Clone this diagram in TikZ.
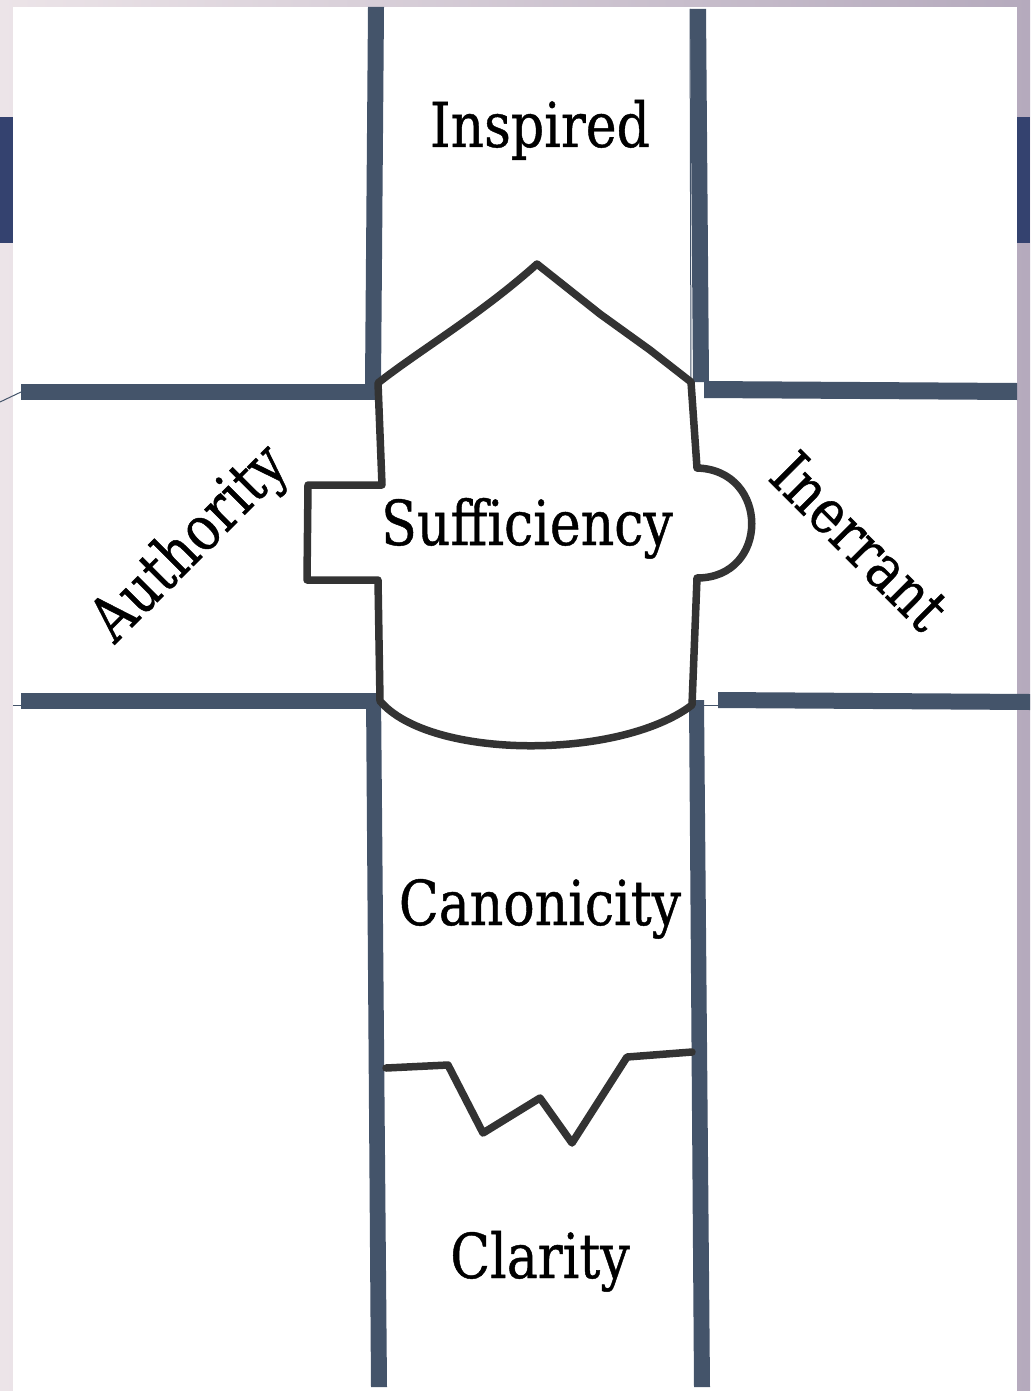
\documentclass[tikz,border=0pt]{standalone}
\usepackage{fontspec}
\newfontfamily\slab[FakeStretch=0.84,FakeBold=0.7]{DejaVu Serif}
\definecolor{bar}{HTML}{44546A}
\definecolor{edgebar}{HTML}{34426F}
\definecolor{ink}{HTML}{333333}
\definecolor{bgl}{HTML}{ECE4E8}
\definecolor{bgr}{HTML}{B5AABD}
\tikzset{
  wall/.style={fill=bar, draw=none},
  thin/.style={draw=bar, line width=1pt},
  sketch/.style={draw=ink, line width=7.5pt, line join=round, line cap=round},
  label/.style={font=\slab\fontsize{62}{70}\selectfont, text=black, inner sep=0pt, anchor=base}
}
\begin{document}
\begin{tikzpicture}[x=1pt,y=-1pt]
\useasboundingbox (0,0) rectangle (1030,1391);
% background
\shade[left color=bgl, right color=bgr] (0,0) rectangle (1030,1391);
\fill[white] (13,7) rectangle (1017,1391);
\fill[edgebar] (0,117) rectangle (13,243);
\fill[edgebar] (1017,117) rectangle (1030,243);
% thin stubs
\draw[thin] (0,402) -- (21,392);
\draw[thin] (13,705) -- (21,705);
\draw[thin] (704,705) -- (718,705);
\draw[thin] (690,9) -- (691,382);
% blue walls
\fill[wall] (368,7) -- (384,7) -- (381,384) -- (365,384) -- cycle;
\fill[wall] (21,384) -- (378,384) -- (378,400) -- (21,400) -- cycle;
\fill[wall] (690,9) -- (706,9) -- (709,382) -- (693,382) -- cycle;
\fill[wall] (704,381) -- (1017,383) -- (1017,400) -- (704,398) -- cycle;
\fill[wall] (21,693) -- (381,693) -- (381,709) -- (21,709) -- cycle;
\fill[wall] (366,693) -- (381,693) -- (387,1387) -- (371,1387) -- cycle;
\fill[wall] (718,692) -- (1030,694) -- (1030,710) -- (718,708) -- cycle;
\fill[wall] (689,700) -- (704,700) -- (710,1387) -- (694,1387) -- cycle;
% hand-drawn outline
\coordinate (tl) at (378,383);
\coordinate (peak) at (537,264);
\coordinate (tr) at (691,382);
\coordinate (bl) at (380,701);
\coordinate (br) at (692,705);
\draw[sketch] (tl) .. controls (420,350) and (480,315) .. (peak)
  -- (600,314) -- (650,350) -- (tr)
  -- (697,468) .. controls (770,470) and (770,578) .. (697,578)
  -- (br) .. controls (620,760) and (430,760) .. (bl)
  -- (378,580) -- (307,580) -- (308,485) -- (382,485) -- cycle;
% zigzag
\coordinate (zl) at (386,1068);
\coordinate (zr) at (692,1052);
\draw[sketch] (zl) -- (448,1065) -- (483,1133) -- (540,1098) -- (572,1143) -- (627,1057) -- (zr);
% labels
\node[label] (inspired) at (540,147) {Inspired};
\node[label] (suff) at (527,545) {Sufficiency};
\node[label] (canon) at (540,925) {Canonicity};
\node[label] (clar) at (540,1278) {Clarity};
\node[label, anchor=center, rotate=45] (auth) at (191,545) {Authority};
\node[label, anchor=center, rotate=-45] (inerr) at (860,541) {Inerrant};
\end{tikzpicture}
\end{document}
